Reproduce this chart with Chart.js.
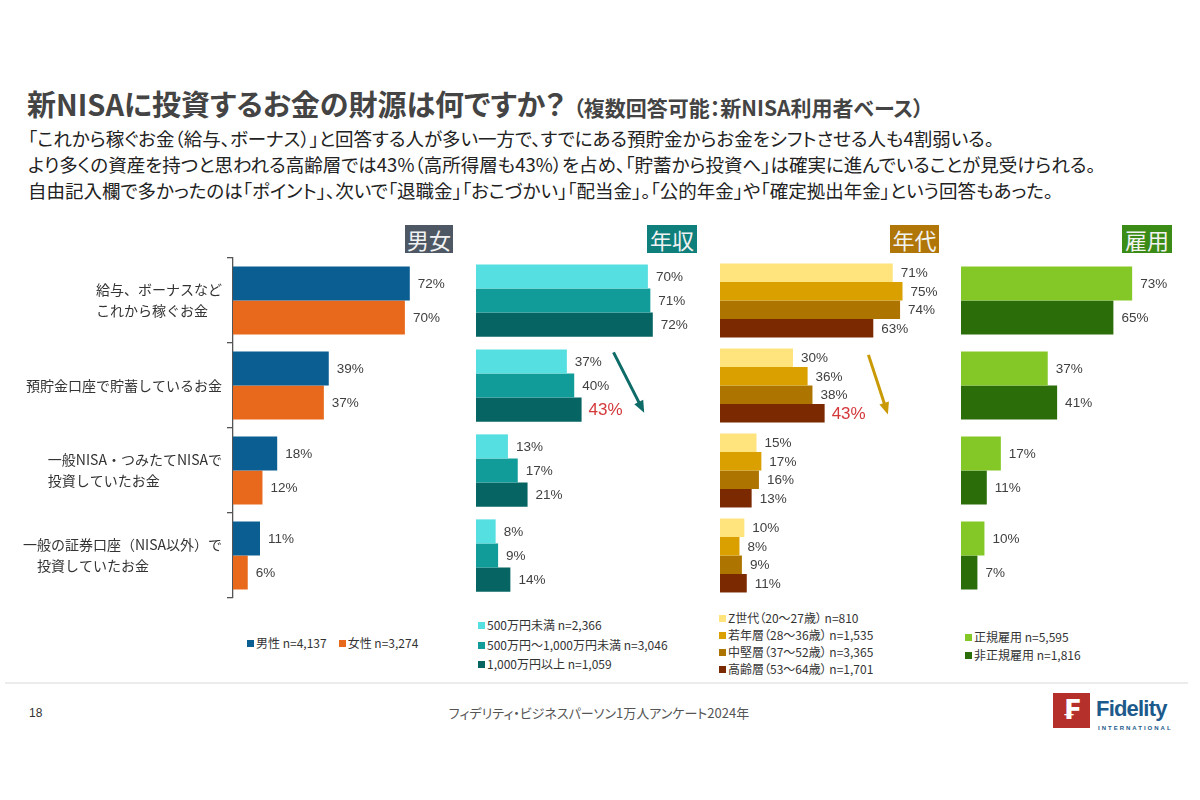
<!DOCTYPE html>
<html>
<head>
<meta charset="utf-8">
<script src="https://cdn.jsdelivr.net/npm/chart.js@4.4.1/dist/chart.umd.min.js"></script>
<style>
body{margin:0;width:1200px;height:800px;background:#fff;position:relative;overflow:hidden;font-family:"Noto Sans CJK JP",sans-serif;color:#222;}
.abs{position:absolute;}
#title{left:27px;top:85px;font-size:29px;line-height:36px;font-weight:bold;color:#444;font-feature-settings:"palt";white-space:nowrap;}
#title span{font-size:21px;margin-left:8px;}
.lead{left:28px;font-size:18.5px;line-height:26px;color:#222;font-feature-settings:"palt";white-space:nowrap;}
.badge{top:225px;height:28px;line-height:28px;font-size:22px;color:#f2f2f2;text-align:center;}
.panel{top:250px;height:356px;}
.legend{font-size:12px;color:#333;white-space:nowrap;font-feature-settings:"palt";}
.legend div{height:18px;line-height:18px;}
#lg3 div{height:17px;line-height:17px;}
#lg2 div{height:19.5px;line-height:19.5px;}
.legend i{display:inline-block;width:7px;height:7px;margin-right:2px;vertical-align:1px;}
#foot{left:5px;top:682px;width:1183px;height:2px;background:#ececec;}
</style>
</head>
<body>
<div id="title" class="abs">新NISAに投資するお金の財源は何ですか？<span>（複数回答可能：新NISA利用者ベース）</span></div>
<div class="abs lead" style="top:125px">「これから稼ぐお金（給与、ボーナス）」と回答する人が多い一方で、すでにある預貯金からお金をシフトさせる人も4割弱いる。</div>
<div class="abs lead" style="top:151px">より多くの資産を持つと思われる高齢層では43%（高所得層も43%）を占め、「貯蓄から投資へ」は確実に進んでいることが見受けられる。</div>
<div class="abs lead" style="top:177px">自由記入欄で多かったのは「ポイント」、次いで「退職金」「おこづかい」「配当金」。「公的年金」や「確定拠出年金」という回答もあった。</div>

<div class="abs badge" style="left:405px;width:48px;background:#4d5864">男女</div>
<div class="abs badge" style="left:647px;width:50px;background:#0f7f7b">年収</div>
<div class="abs badge" style="left:890px;width:49px;background:#b07708">年代</div>
<div class="abs badge" style="left:1122px;width:50px;background:#3b8c16">雇用</div>

<div class="abs panel" style="left:0;width:460px"><canvas id="c1"></canvas></div>
<div class="abs panel" style="left:470px;width:240px"><canvas id="c2"></canvas></div>
<div class="abs panel" style="left:714px;width:240px"><canvas id="c3"></canvas></div>
<div class="abs panel" style="left:955px;width:235px"><canvas id="c4"></canvas></div>

<div id="lg1" class="abs legend" style="left:247px;top:634px"></div>
<div id="lg2" class="abs legend" style="left:478px;top:615px"></div>
<div id="lg3" class="abs legend" style="left:719px;top:609px"></div>
<div id="lg4" class="abs legend" style="left:965px;top:628px"></div>

<div id="foot" class="abs"></div>
<div class="abs" style="left:29px;top:706px;font-size:12px;color:#333;font-family:'Liberation Sans'">18</div>
<div class="abs" style="left:0;width:1198px;top:703px;text-align:center;font-size:13px;color:#555;font-feature-settings:'palt'">フィデリティ・ビジネスパーソン1万人アンケート2024年</div>
<div class="abs" style="left:1053px;top:693px;width:37px;height:35px;background:#b5302a;color:#fff;text-align:center;font:bold 26px/35px 'DejaVu Sans'">₣</div>
<div class="abs" style="left:1096px;top:696px;font:bold 22px/26px 'Liberation Sans';color:#1d5a8c;letter-spacing:-0.8px">Fidelity</div>
<div class="abs" style="left:1098px;top:724px;font:bold 6px/8px 'Liberation Sans';color:#1d5a8c;letter-spacing:2px">INTERNATIONAL</div>

<script>
// categories and series
var categories = [["給与、ボーナスなど", "これから稼ぐお金"], ["預貯金口座で貯蓄しているお金"], ["一般NISA・つみたてNISAで", "投資していたお金"], ["一般の証券口座（NISA以外）で", "　投資していたお金"]];

var genderNames = ["男性 n=4,137", "女性 n=3,274"];
var genderMale = [72, 39, 18, 11];
var genderFemale = [70, 37, 12, 6];

var incomeNames = ["500万円未満 n=2,366", "500万円～1,000万円未満 n=3,046", "1,000万円以上 n=1,059"];
var incomeLow = [70, 37, 13, 8];
var incomeMid = [71, 40, 17, 9];
var incomeHigh = [72, 43, 21, 14];

var ageNames = ["Z世代（20～27歳） n=810", "若年層（28～36歳） n=1,535", "中堅層（37～52歳） n=3,365", "高齢層（53～64歳） n=1,701"];
var ageZ = [71, 30, 15, 10];
var ageYoung = [75, 36, 17, 8];
var ageMid = [74, 38, 16, 9];
var ageSenior = [63, 43, 13, 11];

var jobNames = ["正規雇用 n=5,595", "非正規雇用 n=1,816"];
var jobRegular = [73, 37, 17, 10];
var jobIrregular = [65, 41, 11, 7];

// highlighted labels: [dataset index, category index]
var incomeHighlight = [2, 1];
var ageHighlight = [3, 1];

// arrows: [value, category position]
var incomeArrow = [[56, 0.61], [68.5, 1.32]];
var ageArrow = [[61, 0.64], [69, 1.34]];

Chart.defaults.animation = false;

var valueLabels = {
	id: 'valueLabels',
	afterDatasetsDraw: function(chart) {
		var ctx = chart.ctx;
		var hl = chart.options.plugins.valueLabels.highlight;
		ctx.save();
		ctx.textBaseline = 'middle';
		ctx.textAlign = 'left';
		chart.data.datasets.forEach(function(ds, di) {
			chart.getDatasetMeta(di).data.forEach(function(bar, i) {
				var red = hl && hl[0] == di && hl[1] == i;
				ctx.fillStyle = red ? '#d4383b' : '#404040';
				ctx.font = red ? '17px "Liberation Sans"' : '13.5px "Liberation Sans"';
				ctx.fillText(ds.data[i] + '%', bar.x + (red ? 7 : 8), bar.y + 1);
			});
		});
		ctx.restore();
	}
};

var arrowPlugin = {
	id: 'arrow',
	afterDatasetsDraw: function(chart) {
		var a = chart.options.plugins.arrow;
		if (!a || !a.points) return;
		var xs = chart.scales.x, ys = chart.scales.y;
		var x1 = xs.getPixelForValue(a.points[0][0]), y1 = ys.getPixelForValue(a.points[0][1]);
		var x2 = xs.getPixelForValue(a.points[1][0]), y2 = ys.getPixelForValue(a.points[1][1]);
		var ang = Math.atan2(y2 - y1, x2 - x1);
		var ctx = chart.ctx;
		ctx.save();
		ctx.strokeStyle = a.color;
		ctx.fillStyle = a.color;
		ctx.lineWidth = 3;
		ctx.beginPath();
		ctx.moveTo(x1, y1);
		ctx.lineTo(x2 - 8 * Math.cos(ang), y2 - 8 * Math.sin(ang));
		ctx.stroke();
		ctx.beginPath();
		ctx.moveTo(x2, y2);
		ctx.lineTo(x2 - 12 * Math.cos(ang) + 5 * Math.sin(ang), y2 - 12 * Math.sin(ang) - 5 * Math.cos(ang));
		ctx.lineTo(x2 - 12 * Math.cos(ang) - 5 * Math.sin(ang), y2 - 12 * Math.sin(ang) + 5 * Math.cos(ang));
		ctx.closePath();
		ctx.fill();
		ctx.restore();
	}
};

var axisLabels = {
	id: 'axisLabels',
	afterDraw: function(chart) {
		if (!chart.options.plugins.axisLabels.show) return;
		var ctx = chart.ctx, ys = chart.scales.y;
		ctx.save();
		ctx.font = '14px "Noto Sans CJK JP"';
		ctx.fillStyle = '#333';
		ctx.textBaseline = 'middle';
		ctx.textAlign = 'left';
		categories.forEach(function(lines, i) {
			var w = 0;
			lines.forEach(function(t) { w = Math.max(w, ctx.measureText(t).width); });
			var x = ys.right - 11 - w;
			var y = ys.getPixelForTick(i) - (lines.length - 1) * 10.5;
			lines.forEach(function(t, k) { ctx.fillText(t, x, y + k * 21); });
		});
		ctx.restore();
	}
};

function makePanel(id, names, series, colors, catPct, xMax, pad, extra) {
	var datasets = [];
	for (var i = 0; i < series.length; i++) {
		datasets.push({
			label: names[i],
			data: series[i],
			backgroundColor: colors[i],
			borderWidth: 0,
			categoryPercentage: catPct,
			barPercentage: 1
		});
	}
	var first = id == 'c1';
	return new Chart(document.getElementById(id), {
		type: 'bar',
		data: { labels: categories, datasets: datasets },
		options: {
			indexAxis: 'y',
			responsive: true,
			maintainAspectRatio: false,
			layout: { padding: { top: 8, bottom: 8, left: pad[0], right: pad[1] } },
			scales: {
				x: { display: false, min: 0, max: xMax },
				y: {
					display: first,
					afterFit: function(s) { if (first) s.width = 233; },
					ticks: { display: false },
					grid: { offset: true, drawOnChartArea: false, tickLength: 6, color: '#555', lineWidth: 1.3 },
					border: { color: '#555', width: 1.3 }
				}
			},
			plugins: {
				legend: { display: false },
				tooltip: { enabled: false },
				valueLabels: { highlight: extra.highlight },
				arrow: { points: extra.arrow, color: extra.arrowColor },
				axisLabels: { show: first }
			}
		},
		plugins: [valueLabels, arrowPlugin, axisLabels]
	});
}

var genderColors = ['#0b5e92', '#e8691b'];
var incomeColors = ['#56dfe0', '#119b99', '#066563'];
var ageColors = ['#ffe37c', '#daa000', '#ad7400', '#7a2900'];
var jobColors = ['#83c826', '#2b6d09'];

makePanel('c1', genderNames, [genderMale, genderFemale], genderColors, 0.8, 90, [0, 6], {});
makePanel('c2', incomeNames, [incomeLow, incomeMid, incomeHigh], incomeColors, 0.85, 90, [6, 13], { highlight: incomeHighlight, arrow: incomeArrow, arrowColor: '#0d6b68' });
makePanel('c3', ageNames, [ageZ, ageYoung, ageMid, ageSenior], ageColors, 0.87, 90, [6, 15], { highlight: ageHighlight, arrow: ageArrow, arrowColor: '#c99a06' });
makePanel('c4', jobNames, [jobRegular, jobIrregular], jobColors, 0.8, 90, [6, 18], {});

function legend(id, names, colors, inline) {
	var html = '';
	for (var i = 0; i < names.length; i++) {
		var item = '<i style="background:' + colors[i] + '"></i>' + names[i];
		html += inline ? '<span style="margin-right:12px">' + item + '</span>' : '<div>' + item + '</div>';
	}
	document.getElementById(id).innerHTML = inline ? '<div>' + html + '</div>' : html;
}
legend('lg1', genderNames, genderColors, true);
legend('lg2', incomeNames, incomeColors, false);
legend('lg3', ageNames, ageColors, false);
legend('lg4', jobNames, jobColors, false);
</script>
</body>
</html>
